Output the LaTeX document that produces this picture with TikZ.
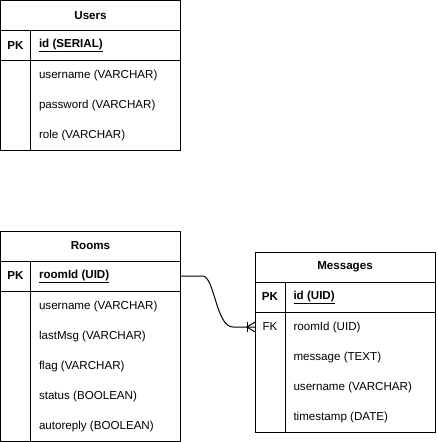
\documentclass[tikz,border=0pt]{standalone}
\usepackage{fontspec}
\setmainfont{Liberation Sans}
\newcommand\tblfont{\fontsize{11.6pt}{14pt}\selectfont}
\begin{document}
\begin{tikzpicture}[x=1pt,y=-1pt,line width=1pt,
  row/.style={draw, rectangle, line width=1pt, inner sep=0pt, outer sep=0pt, anchor=north west, minimum width=180pt, minimum height=#1},
  row/.default=30pt,
  ttl/.style={font=\tblfont\bfseries},
  keylbl/.style={font=\tblfont\bfseries, inner sep=0pt},
  fklbl/.style={font=\tblfont, inner sep=0pt},
  fld/.style={anchor=west, inner sep=0pt, font=\tblfont},
  pkfld/.style={anchor=west, inner sep=0pt, font=\tblfont\bfseries},
  conn/.style={draw, line width=1pt}
]
\useasboundingbox (0,0) rectangle (437,442);

% ---------- Users ----------
\node[row] (usersT) at (0.5,0.5) {};
\node[ttl] (usersTitle) at (usersT) {Users};
\node[row] (usersPK) at (0.5,30.5) {};
\node[row=90pt] (usersB) at (0.5,60.5) {};
\draw (30.5,30.5) -- (30.5,150.5);
\node[keylbl] (usersPKl) at (15.5,45.5) {PK};
\node[pkfld] (usersId) at (38.5,45.5) {\underline{id (SERIAL)}};
\node[fld] (usersF1) at (38.5,75.5) {username (VARCHAR)};
\node[fld] (usersF2) at (38.5,105.5) {password (VARCHAR)};
\node[fld] (usersF3) at (38.5,135.5) {role (VARCHAR)};

% ---------- Rooms ----------
\node[row] (roomsT) at (0.5,231) {};
\node[ttl] (roomsTitle) at (roomsT) {Rooms};
\node[row] (roomsPK) at (0.5,261) {};
\node[row=150pt] (roomsB) at (0.5,291) {};
\draw (30.5,261) -- (30.5,441);
\node[keylbl] (roomsPKl) at (15.5,276) {PK};
\node[pkfld] (roomsId) at (38.5,276) {\underline{roomId (UID)}};
\node[fld] (roomsF1) at (38.5,306) {username (VARCHAR)};
\node[fld] (roomsF2) at (38.5,336) {lastMsg (VARCHAR)};
\node[fld] (roomsF3) at (38.5,366) {flag (VARCHAR)};
\node[fld] (roomsF4) at (38.5,396) {status (BOOLEAN)};
\node[fld] (roomsF5) at (38.5,426) {autoreply (BOOLEAN)};

% ---------- Messages ----------
\node[row] (msgT) at (255,252) {};
\node[ttl] (msgTitle) at (msgT) {Messages};
\node[row] (msgPK) at (255,282) {};
\node[row=120pt] (msgB) at (255,312) {};
\node[rectangle, inner sep=0pt, outer sep=0pt, anchor=north west, minimum width=180pt, minimum height=30pt] (msgFK) at (255,312) {};
\draw (285,282) -- (285,432);
\node[keylbl] (msgPKl) at (270,297) {PK};
\node[pkfld] (msgId) at (293,297) {\underline{id (UID)}};
\node[fklbl] (msgFKl) at (270,327) {FK};
\node[fld] (msgF1) at (293,327) {roomId (UID)};
\node[fld] (msgF2) at (293,357) {message (TEXT)};
\node[fld] (msgF3) at (293,387) {username (VARCHAR)};
\node[fld] (msgF4) at (293,417) {timestamp (DATE)};

% ---------- connector ----------
\draw[conn] (roomsPK.east) -- ++(22,0) .. controls ++(12,0) and (216,327) .. (233,327) -- (msgFK.west);
% one-and-many end
\draw[conn] (msgFK.west) ++(-8,-5) -- ++(0,10);
\draw[conn] (msgFK.west) ++(0,-5) -- ++(-8,5) -- ++(8,5);
\end{tikzpicture}
\end{document}
